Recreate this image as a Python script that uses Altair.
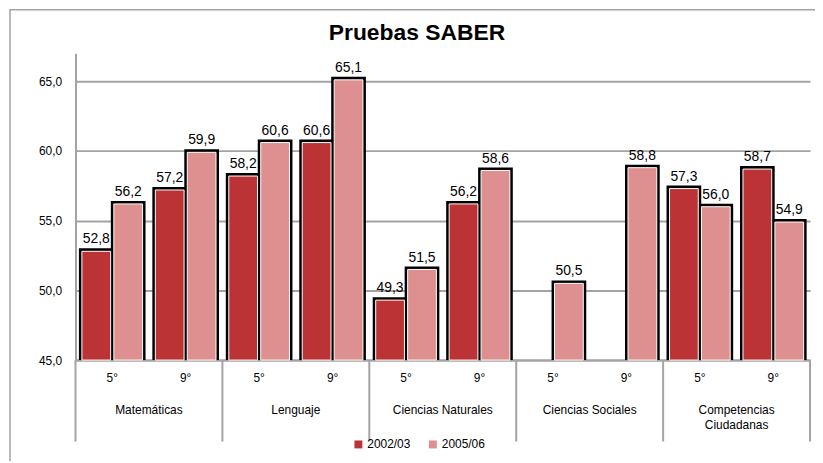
import altair as alt
import pandas as pd

categories = ["Matemáticas", "Lenguaje", "Ciencias Naturales", "Ciencias Sociales", "Competencias Ciudadanas"]
category_labels = ["Matemáticas", "Lenguaje", "Ciencias Naturales", "Ciencias Sociales", "Competencias\nCiudadanas"]
grades = ["5°", "9°"]
series = ["2002/03", "2005/06"]
values_2002 = [52.8, 57.2, 58.2, 60.6, 49.3, 56.2, None, None, 57.3, 58.7]
values_2005 = [56.2, 59.9, 60.6, 65.1, 51.5, 58.6, 50.5, 58.8, 56.0, 54.9]
y_ticks = [45, 50, 55, 60, 65]
colors = ["#BC3336", "#DE8F8F"]

FONT = "Liberation Sans"
GRAY = "#A3A3A3"

keys = [f"{c}|{g}" for c in categories for g in grades]
rows = []
for i, k in enumerate(keys):
    for s, vals in zip(series, [values_2002, values_2005]):
        v = vals[i]
        if v is None:
            continue
        rows.append({"key": k, "series": s, "value": v,
                     "label": f"{v:.1f}".replace(".", ",")})
df = pd.DataFrame(rows)

cat_df = pd.DataFrame({"key": [f"{c}|9°" for c in categories], "name": category_labels})
sep_df = pd.DataFrame({"key": [f"{c}|5°" for c in categories]})
end_df = pd.DataFrame({"key": [keys[-1]]})
frame_df = pd.DataFrame({"a": [0]})

W, H = 740, 309

x_enc = alt.X("key:N", sort=keys, scale=alt.Scale(paddingInner=0, paddingOuter=0),
              axis=alt.Axis(title=None, ticks=False, labelAngle=0, labelPadding=13,
                            labelFontSize=12, labelFont=FONT, labelColor="#000000",
                            labelExpr="split(datum.value, '|')[1]", grid=False,
                            domainColor=GRAY, domainWidth=2))
xo_enc = alt.XOffset("series:N", sort=series,
                     scale=alt.Scale(paddingInner=0.1, paddingOuter=0.2))
y_enc = alt.Y("value:Q", scale=alt.Scale(domain=[45, 67], zero=False, nice=False),
              axis=alt.Axis(title=None, values=y_ticks, ticks=False, labelPadding=14,
                            labelFontSize=12, labelFont=FONT, labelColor="#000000",
                            labelExpr="replace(format(datum.value, '.1f'), '.', ',')",
                            grid=True, gridColor=GRAY, gridWidth=2,
                            domainColor=GRAY, domainWidth=2))

base = alt.Chart(df)

shadow = base.mark_bar(fill="black", stroke="black", strokeWidth=6, y2Offset=-3).encode(
    x=x_enc, xOffset=xo_enc, y=y_enc, y2=alt.datum(45))

bars = base.mark_bar(stroke="white", strokeWidth=1).encode(
    x=x_enc, xOffset=xo_enc, y=y_enc, y2=alt.datum(45),
    color=alt.Color("series:N", sort=series,
                    scale=alt.Scale(domain=series, range=colors),
                    legend=alt.Legend(title=None, orient="none", direction="horizontal",
                                      legendX=279, legendY=388, symbolType="square",
                                      symbolSize=64, symbolStrokeWidth=0, labelFontSize=12,
                                      labelFont=FONT, labelOffset=3, columnPadding=16,
                                      padding=0)))

labels = base.mark_text(baseline="bottom", dy=-5, fontSize=14, font=FONT, color="#000000").encode(
    x=x_enc, xOffset=xo_enc, y=y_enc, text="label:N")

cat_text = alt.Chart(cat_df).mark_text(baseline="top", fontSize=12, font=FONT,
                                       lineBreak="\n", lineHeight=15, color="#000000").encode(
    x=alt.X("key:N", sort=keys, bandPosition=0),
    y=alt.value(354), text="name:N")

seps = alt.Chart(sep_df).mark_rule(color=GRAY, strokeWidth=2).encode(
    x=alt.X("key:N", sort=keys, bandPosition=0),
    y=alt.value(H), y2=alt.value(H + 82))
end_sep = alt.Chart(end_df).mark_rule(color=GRAY, strokeWidth=2).encode(
    x=alt.X("key:N", sort=keys, bandPosition=1),
    y=alt.value(H), y2=alt.value(H + 82))

frame = alt.Chart(frame_df).mark_rect(fill=None, stroke=GRAY, strokeWidth=1.5).encode(
    x=alt.value(-66), x2=alt.value(790), y=alt.value(-44), y2=alt.value(440))

title = alt.Chart(frame_df).mark_text(fontSize=23, fontWeight="bold", font=FONT,
                                      baseline="alphabetic", color="#000000").encode(
    x=alt.value(344), y=alt.value(-13), text=alt.value("Pruebas SABER"))

chart = alt.layer(frame, shadow, bars, labels, cat_text, seps, end_sep, title).properties(
    width=W, height=H,
    autosize=alt.AutoSizeParams(type="none"),
    padding={"left": 68, "top": 44, "right": 5, "bottom": 100},
).configure_view(stroke=None)

chart.save("out.html", embed_options={"renderer": "svg", "actions": False})
